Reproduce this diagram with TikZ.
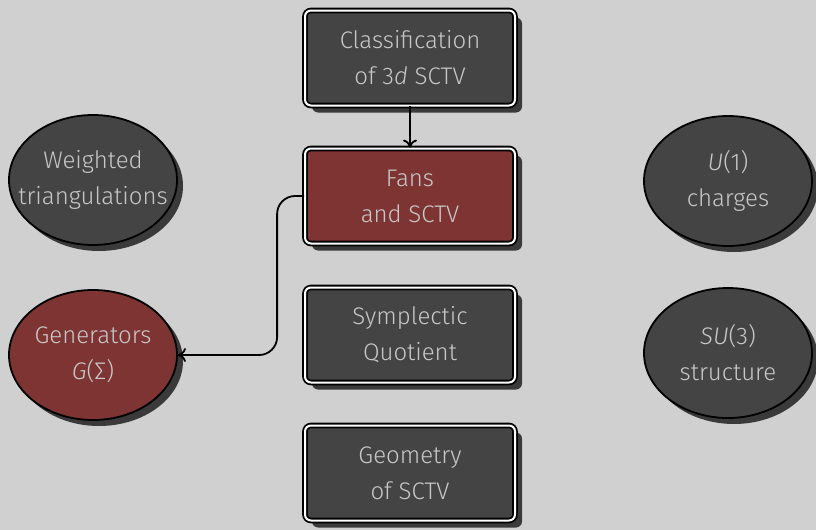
\documentclass[tikz,border=0pt]{standalone}
\usepackage{fontspec}
\setmainfont{Fira Sans Light}
\usetikzlibrary{shapes.geometric,shadows,arrows.meta}

\definecolor{bggray}{HTML}{D0D0D0}
\definecolor{boxgray}{HTML}{444444}
\definecolor{boxred}{HTML}{7F3434}
\definecolor{textgray}{HTML}{C8C8C8}

\begin{document}
\begin{tikzpicture}[
        x=0.5pt, y=-0.5pt,
        every node/.style={font=\fontsize{12}{18}\selectfont, text=textgray, align=center},
        topic/.style={
            rectangle, rounded corners=3pt,
            minimum width=105pt, minimum height=47.5pt,
            draw=black, line width=0.9pt, double=white, double distance=1pt,
            fill=boxgray,
            drop shadow={shadow xshift=3.5pt, shadow yshift=-3.5pt, fill=boxgray!85!black, opacity=1}
        },
        side/.style={
            ellipse, inner sep=-14pt,
            minimum width=84pt, minimum height=65pt,
            draw=black, line width=0.9pt,
            fill=boxgray,
            drop shadow={shadow xshift=3pt, shadow yshift=-3pt, fill=boxgray!85!black, opacity=1}
        },
        link/.style={-{To[length=4pt,width=7pt]}, line width=0.9pt, draw=black}
    ]
    \fill[bggray] (0,0) rectangle (816,530);
    \useasboundingbox (0,0) rectangle (816,530);

    \node[topic] (classif) at (410,58) {Classification\\of 3\textit{d} SCTV};
    \node[topic, fill=boxred] (fans) at (410,196) {Fans\\and SCTV};
    \node[topic] (quot) at (410,335) {Symplectic\\Quotient};
    \node[topic] (geom) at (410,473) {Geometry\\of SCTV};

    \node[side] (wtri) at (93,180) {Weighted\\triangulations};
    \node[side, fill=boxred] (gens) at (93,355) {Generators\\\textit{G}(Σ)};
    \node[side] (charges) at (728,181) {\textit{U}(1)\\charges};
    \node[side] (su3) at (728,353) {\textit{SU}(3)\\structure};

    \draw[link] (classif) -- (fans);
    \draw[link, rounded corners=9pt] (fans.west) -- ++(-27,0) |- (gens.east);
\end{tikzpicture}
\end{document}
